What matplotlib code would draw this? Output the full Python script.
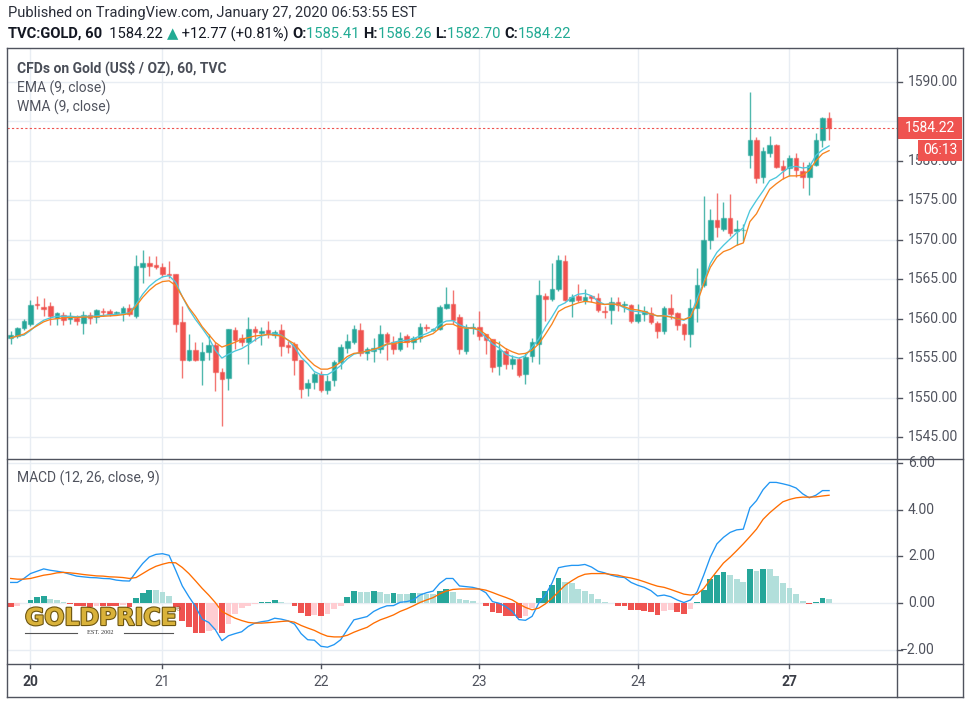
import numpy as np
import matplotlib
matplotlib.use("Agg")
import matplotlib.pyplot as plt
from matplotlib import transforms
from matplotlib.patches import Rectangle
from matplotlib.lines import Line2D
import matplotlib.patheffects as pe

# ---------------- data ----------------
opens = [1557.6,1557.8,1558.8,1559.3,1561.9,1561.5,1561.6,1560.1,1560.5,1560.0,
         1560.1,1559.45,1560.5,1560.25,1561.0,1561.0,1560.7,1560.7,1561.3,1560.3,
         1566.6,1567.0,1566.8,1566.5,1565.7,1565.6,1559.6,1554.8,1556.0,1554.7,
         1555.75,1556.6,1553.3,1552.5,1558.6,1557.55,1557.0,1558.7,1558.2,1558.5,
         1557.9,1558.6,1556.7,1556.8,1554.7,1551.2,1552.0,1553.0,1550.9,1552.2,
         1554.5,1556.3,1557.1,1558.6,1555.7,1555.9,1556.2,1558.1,1557.1,1556.2,
         1557.85,1557.1,1557.5,1559.0,1558.5,1558.7,1561.4,1561.9,1560.2,1555.9,
         1558.8,1559.0,1558.0,1557.4,1554.05,1555.9,1554.3,1554.9,1553.0,1555.3,
         1556.8,1562.9,1562.5,1563.8,1567.3,1562.3,1562.9,1562.3,1562.9,1562.6,
         1561.0,1561.1,1562.1,1561.7,1561.7,1559.65,1560.6,1560.7,1559.5,1558.4,
         1561.3,1560.7,1559.3,1558.0,1561.3,1564.3,1570.0,1572.5,1571.4,1572.7,
         1571.1,1571.2,1580.8,1582.7,1577.9,1581.0,1582.0,1579.3,1579.1,1580.4,
         1578.7,1577.9,1579.5,1582.6,1585.41]
highs = [1558.4,1559.0,1559.9,1562.4,1562.9,1562.6,1562.1,1560.8,1560.9,1560.8,
         1560.5,1561.0,1560.8,1561.2,1561.4,1561.2,1561.0,1561.65,1561.8,1568.1,
         1568.7,1567.9,1568.0,1567.0,1567.3,1565.7,1561.6,1558.0,1557.1,1557.1,
         1558.0,1557.0,1553.8,1558.7,1559.0,1558.0,1560.2,1559.1,1559.0,1559.75,
         1558.6,1559.3,1557.2,1557.0,1554.7,1552.4,1553.2,1553.4,1552.9,1554.7,
         1556.8,1558.1,1559.2,1559.4,1556.4,1557.6,1559.2,1558.3,1557.85,1558.3,
         1558.1,1557.85,1559.4,1559.3,1558.8,1561.7,1564.0,1563.6,1560.6,1559.3,
         1559.4,1561.0,1558.1,1557.4,1557.2,1556.3,1555.4,1555.1,1555.7,1557.6,
         1564.9,1563.3,1567.1,1568.05,1568.05,1563.1,1564.4,1563.75,1563.0,1563.3,
         1561.65,1562.8,1562.7,1562.3,1561.9,1561.8,1561.6,1561.5,1559.7,1561.6,
         1563.1,1560.9,1559.5,1562.5,1566.4,1575.6,1573.9,1575.9,1574.8,1575.8,
         1572.5,1572.0,1588.7,1583.0,1581.8,1583.1,1582.2,1580.1,1580.8,1581.0,
         1579.8,1579.8,1583.5,1585.6,1586.26]
lows = [1556.8,1557.5,1558.6,1559.1,1561.2,1560.3,1559.2,1559.2,1559.2,1559.3,
        1559.2,1558.1,1559.3,1559.5,1560.4,1560.4,1560.6,1559.75,1560.4,1560.1,
        1564.5,1565.4,1566.3,1565.3,1565.2,1558.3,1552.5,1554.6,1554.6,1551.6,
        1554.8,1550.8,1546.4,1550.9,1556.2,1556.5,1554.3,1557.2,1556.7,1557.55,
        1557.6,1555.3,1555.7,1552.9,1550.0,1550.25,1551.1,1550.7,1550.5,1551.5,
        1553.6,1555.7,1556.8,1555.3,1554.8,1554.5,1555.7,1554.7,1555.5,1555.9,
        1556.4,1556.2,1557.0,1558.4,1558.4,1558.5,1561.2,1559.3,1555.5,1555.5,
        1558.1,1557.3,1555.5,1553.2,1552.8,1553.6,1553.6,1552.6,1551.7,1554.5,
        1554.3,1559.65,1562.3,1563.5,1562.3,1560.2,1562.1,1561.9,1562.1,1560.8,
        1560.1,1559.3,1561.0,1560.9,1559.5,1559.4,1559.7,1559.3,1557.5,1558.1,
        1559.9,1558.5,1557.25,1556.4,1559.6,1564.0,1568.8,1570.4,1571.1,1570.5,
        1569.3,1569.9,1579.1,1577.2,1577.2,1580.55,1579.1,1577.7,1578.1,1578.0,
        1576.5,1575.7,1579.3,1581.8,1582.70]
closes = [1557.9,1558.8,1559.7,1561.7,1561.7,1561.2,1560.3,1560.7,1559.8,1560.4,
          1559.7,1560.5,1560.1,1561.05,1560.8,1560.6,1560.9,1561.3,1560.6,1566.7,
          1567.1,1566.7,1566.6,1565.6,1565.5,1559.3,1554.8,1556.0,1554.8,1555.75,
          1556.6,1553.3,1552.4,1558.7,1557.3,1557.1,1558.7,1558.3,1558.4,1558.1,
          1558.3,1556.5,1556.4,1554.7,1551.1,1551.9,1553.0,1550.9,1552.1,1554.5,
          1556.4,1557.2,1558.7,1555.7,1556.2,1556.3,1558.1,1557.0,1556.2,1557.6,
          1557.1,1557.6,1559.0,1558.8,1558.7,1561.5,1561.9,1559.8,1556.2,1558.8,
          1559.0,1557.85,1557.3,1553.9,1556.0,1554.3,1554.9,1552.8,1555.2,1557.0,
          1563.0,1562.5,1563.75,1567.4,1562.4,1562.8,1562.4,1562.8,1562.6,1561.1,
          1560.9,1562.1,1561.7,1561.9,1559.75,1560.6,1561.0,1559.6,1558.4,1561.4,
          1560.55,1559.15,1558.1,1561.4,1564.3,1570.0,1572.5,1571.6,1572.7,1570.8,
          1571.4,1571.3,1582.7,1577.8,1581.2,1582.0,1579.2,1578.9,1580.4,1578.8,
          1577.9,1579.5,1582.7,1585.4,1584.22]
ema9 = [1557.55,1557.8,1558.05,1558.6,1559.1,1559.6,1559.9,1560.0,1560.1,1560.15,
        1560.15,1560.2,1560.2,1560.25,1560.3,1560.35,1560.4,1560.5,1560.65,1561.6,
        1562.7,1563.6,1564.3,1564.7,1564.8,1564.2,1562.8,1561.4,1560.3,1559.0,
        1558.0,1557.0,1556.4,1556.7,1557.0,1557.4,1557.6,1557.8,1557.9,1558.0,
        1557.9,1557.8,1557.3,1556.8,1555.8,1554.9,1554.1,1553.6,1553.6,1553.9,
        1554.5,1555.2,1555.6,1555.7,1555.9,1556.1,1556.4,1556.8,1556.8,1557.0,
        1557.0,1557.2,1557.5,1557.8,1558.1,1558.8,1559.3,1559.3,1558.9,1558.8,
        1558.8,1558.6,1558.0,1557.2,1556.8,1556.2,1555.8,1555.5,1555.6,1556.0,
        1556.8,1558.0,1559.3,1560.9,1561.4,1561.7,1562.0,1562.2,1562.1,1561.9,
        1561.8,1561.85,1561.8,1561.5,1561.2,1561.1,1560.9,1560.6,1560.35,1560.35,
        1560.2,1560.0,1559.9,1560.2,1562.0,1564.4,1566.5,1567.8,1568.5,1568.8,
        1569.3,1569.6,1572.3,1573.3,1574.9,1576.4,1577.1,1577.7,1578.1,1578.1,
        1578.2,1578.8,1580.0,1580.9,1581.3]
wma9 = [1557.55,1557.8,1557.9,1558.5,1559.25,1559.8,1560.1,1560.3,1560.3,1560.3,
        1560.25,1560.3,1560.3,1560.35,1560.4,1560.5,1560.55,1560.6,1560.75,1561.8,
        1563.1,1564.1,1564.8,1565.3,1565.45,1564.6,1562.8,1561.2,1559.9,1558.8,
        1557.6,1556.0,1555.0,1555.5,1555.9,1556.2,1556.7,1557.3,1557.8,1558.0,
        1558.1,1557.9,1557.3,1556.4,1555.1,1554.3,1553.3,1552.9,1552.9,1553.4,
        1554.05,1554.9,1555.5,1555.7,1555.9,1556.0,1556.3,1556.7,1557.0,1557.2,
        1557.25,1557.45,1557.8,1558.1,1558.5,1559.3,1559.7,1559.75,1559.2,1558.9,
        1558.8,1558.5,1557.6,1556.8,1556.3,1555.5,1555.2,1555.0,1555.3,1556.4,
        1557.4,1558.9,1560.2,1561.6,1562.0,1562.7,1563.1,1563.2,1562.9,1562.2,
        1561.8,1561.9,1561.8,1561.35,1561.0,1560.9,1560.8,1560.55,1560.35,1560.4,
        1560.25,1560.0,1559.8,1560.3,1562.6,1564.6,1567.0,1568.4,1569.3,1570.1,
        1570.9,1571.5,1573.7,1575.0,1576.2,1577.5,1577.9,1578.6,1579.2,1579.3,
        1579.1,1579.2,1580.7,1581.4,1581.9]
macd_line = [0.89,0.89,1.06,1.27,1.37,1.47,1.41,1.37,1.32,1.24,
             1.16,1.13,1.10,1.09,1.06,1.05,0.99,0.96,0.95,1.34,
             1.70,1.98,2.09,2.12,2.05,1.41,0.74,0.28,-0.14,-0.68,
             -0.82,-1.13,-1.60,-1.39,-1.30,-1.22,-0.99,-0.85,-0.79,-0.75,
             -0.64,-0.68,-0.75,-0.89,-1.30,-1.56,-1.58,-1.84,-1.88,-1.77,
             -1.56,-1.13,-0.71,-0.64,-0.57,-0.35,-0.21,-0.11,-0.10,0.04,
             0.07,0.14,0.35,0.45,0.52,0.85,1.06,1.06,0.74,0.71,
             0.68,0.61,0.45,0.07,0.0,-0.14,-0.35,-0.70,-0.73,-0.56,
             0.0,0.35,0.85,1.52,1.58,1.62,1.62,1.66,1.55,1.37,
             1.30,1.20,1.13,1.10,0.89,0.77,0.68,0.54,0.31,0.35,
             0.28,0.14,0.03,0.14,0.49,1.20,1.97,2.54,2.82,3.03,
             3.14,3.17,4.08,4.39,4.86,5.17,5.17,5.11,5.04,4.93,
             4.68,4.51,4.62,4.82,4.82]
signal_line = [1.06,1.03,1.03,1.06,1.13,1.20,1.24,1.30,1.32,1.30,
               1.27,1.23,1.20,1.17,1.16,1.13,1.12,1.10,1.06,1.10,
               1.27,1.44,1.58,1.67,1.74,1.73,1.53,1.27,0.96,0.64,
               0.35,0.03,-0.35,-0.50,-0.64,-0.74,-0.82,-0.85,-0.85,-0.83,
               -0.81,-0.78,-0.76,-0.81,-0.95,-1.06,-1.16,-1.30,-1.41,-1.44,
               -1.44,-1.37,-1.24,-1.13,-1.03,-0.85,-0.71,-0.61,-0.50,-0.35,
               -0.24,-0.11,0.03,0.14,0.24,0.40,0.52,0.59,0.61,0.61,
               0.61,0.61,0.56,0.46,0.35,0.25,0.14,-0.03,-0.18,-0.28,
               -0.21,-0.03,0.21,0.49,0.77,0.96,1.13,1.24,1.27,1.27,
               1.27,1.23,1.20,1.13,1.08,1.01,0.92,0.82,0.73,0.68,
               0.59,0.49,0.39,0.35,0.39,0.63,1.01,1.37,1.72,1.97,
               2.25,2.54,2.85,3.17,3.59,3.87,4.11,4.34,4.44,4.51,
               4.54,4.54,4.55,4.59,4.62]
macd_hist = [-0.18,-0.10,0.03,0.14,0.25,0.31,0.20,0.14,0.04,-0.03,
             -0.10,-0.10,-0.14,-0.10,-0.10,-0.10,-0.10,-0.08,-0.14,0.24,
             0.45,0.57,0.57,0.47,0.33,-0.14,-0.74,-1.03,-1.27,-1.27,
             -1.17,-1.15,-1.27,-0.89,-0.45,-0.21,-0.10,-0.04,0.04,0.07,
             0.14,0.04,-0.01,-0.10,-0.40,-0.54,-0.50,-0.54,-0.45,-0.24,
             -0.10,0.28,0.52,0.48,0.48,0.52,0.48,0.38,0.42,0.38,
             0.38,0.42,0.42,0.40,0.38,0.52,0.62,0.50,0.17,0.14,
             0.08,0.02,-0.10,-0.39,-0.42,-0.54,-0.54,-0.63,-0.54,-0.21,
             0.24,0.52,0.77,1.10,0.89,0.85,0.61,0.52,0.38,0.18,
             0.07,0.00,-0.10,-0.10,-0.31,-0.31,-0.35,-0.39,-0.52,-0.35,
             -0.31,-0.39,-0.45,-0.24,0.07,0.55,1.05,1.20,1.35,1.20,
             1.05,0.90,1.45,1.38,1.45,1.45,1.15,0.87,0.65,0.38,
             0.10,-0.04,0.05,0.24,0.18]
day_labels = ["20", "21", "22", "23", "24", "27"]
day_bar_index = [3, 23, 47, 71, 95, 118]
day_bold = [True, False, False, False, False, True]
price_ticks = [1545, 1550, 1555, 1560, 1565, 1570, 1575, 1580, 1590]
macd_ticks = [6, 4, 2, 0, -2]
last_price = 1584.22
countdown = "06:13"

# ---------------- style ----------------
W, H = 970, 704
FONT = "Roboto"
UP, DOWN = "#26A69A", "#EF5350"
GRID = "#E8EDF3"
FRAME = "#50535E"
TXT = "#50535E"
LFS = 10.0

plt.rcParams["font.family"] = [FONT, "DejaVu Sans"]

fig = plt.figure(figsize=(W / 100, H / 100), dpi=100)
fig.patch.set_facecolor("white")

def fx(px):
    return px / W

def fy(py):
    return 1 - py / H

L, R = 7, 897
ax = fig.add_axes([fx(L), fy(459), (R - L) / W, (459 - 48) / H])
ax2 = fig.add_axes([fx(L), fy(664), (R - L) / W, (664 - 459) / H])

x = np.arange(len(closes))
o = np.array(opens); h = np.array(highs); l = np.array(lows); c = np.array(closes)

for a in (ax, ax2):
    a.set_xlim(-0.56, 134.29)
    for s in a.spines.values():
        s.set_visible(False)
    a.set_xticks([]); a.set_yticks([])
    a.set_facecolor("white")
    for d in day_bar_index:
        a.axvline(d, color=GRID, lw=1, zorder=0)

ax.set_ylim(1542.21, 1594.31)
ax2.set_ylim(-2.599, 6.171)

for p in [1545, 1550, 1555, 1560, 1565, 1570, 1575, 1580, 1585, 1590]:
    ax.axhline(p, color=GRID, lw=1, zorder=0)
for m in macd_ticks:
    ax2.axhline(m, color=GRID, lw=1, zorder=0)

# candles
up = c >= o
body_col = np.where(up, UP, DOWN)
edge_col = [(0.15, 0.65, 0.60, 0.5) if u else (0.94, 0.33, 0.31, 0.5) for u in up]
wick_col = [(0.15, 0.65, 0.60, 0.8) if u else (0.94, 0.33, 0.31, 0.8) for u in up]
ax.vlines(x, l, h, colors=wick_col, lw=1.0, zorder=2)
ax.bar(x, np.maximum(np.abs(c - o), 0.07), bottom=np.minimum(o, c), width=0.68,
       color=body_col, edgecolor=edge_col, linewidth=1.0, zorder=3)

ax.plot(x, wma9, color="#4CC7DC", lw=0.95, zorder=4)
ax.plot(x, ema9, color="#F7841E", lw=0.95, zorder=4)
ax.axhline(last_price, color=DOWN, lw=0.8, ls=(0, (2, 2)), zorder=5)

# MACD histogram with TradingView colouring
hist = np.array(macd_hist)
hcols = []
for i, v in enumerate(hist):
    prev = hist[i - 1] if i > 0 else v
    if v >= 0:
        hcols.append("#26A69A" if v > prev else "#B2DFDB")
    else:
        hcols.append("#FFCDD2" if v > prev else "#EF5350")
ax2.bar(x, hist, width=0.86, color=hcols, zorder=2)
ax2.plot(x, macd_line, color="#2196F3", lw=0.95, zorder=4)
ax2.plot(x, signal_line, color="#FF6D00", lw=0.95, zorder=4)

# axis labels (right)
bt = transforms.blended_transform_factory(ax.transAxes, ax.transData)
bt2 = transforms.blended_transform_factory(ax2.transAxes, ax2.transData)
xoff = (908 - L) / (R - L)
for p in price_ticks:
    ax.text(xoff, p, f"{p:.2f}", transform=bt, ha="left", va="center",
            fontsize=LFS, color=TXT, clip_on=False)
for m in macd_ticks:
    lab = f"{m:.2f}".replace("-", "\u2212")
    xo = xoff if m >= 0 else (900 - L) / (R - L)
    ax2.text(xo, m, lab, transform=bt2, ha="left", va="center",
             fontsize=LFS, color=TXT, clip_on=False)

# last price box
fig.canvas.draw()
ypx = ax.transData.transform((0, last_price))[1]
fig.patches.append(Rectangle((898, ypx - 11), 64, 22, transform=None,
                             facecolor=DOWN, edgecolor="none", zorder=10))
fig.patches.append(Rectangle((918, ypx - 33), 44, 21, transform=None,
                             facecolor=DOWN, edgecolor="none", zorder=10))
fig.text(fx(930), (ypx) / H, f"{last_price:.2f}", color="white", fontsize=LFS,
         ha="center", va="center", zorder=11)
fig.text(fx(940), (ypx - 22.5) / H, countdown, color="white", fontsize=LFS,
         ha="center", va="center", zorder=11)

# date labels
for lab, d, b in zip(day_labels, day_bar_index, day_bold):
    ax2.text(d, -2.599 - 18 / 23.375, lab, ha="center", va="center", fontsize=LFS,
             color="#3a3d46" if b else TXT, fontweight="bold" if b else "normal",
             clip_on=False)
    ax2.plot([d, d], [-2.599, -2.599 - 4 / 23.375], color=FRAME, lw=1, clip_on=False)

# frame lines
def hline(y, x0, x1, col=FRAME, lw=1.0):
    fig.lines.append(Line2D([fx(x0), fx(x1)], [fy(y), fy(y)], transform=fig.transFigure,
                            color=col, lw=lw, zorder=20))

def vline(xp, y0, y1, col=FRAME, lw=1.0):
    fig.lines.append(Line2D([fx(xp), fx(xp)], [fy(y0), fy(y1)], transform=fig.transFigure,
                            color=col, lw=lw, zorder=20))

hline(48, 7, 963)
hline(459, 7, 963)
hline(664, 7, 963)
hline(697, 7, 963)
vline(7, 48, 697)
vline(897, 48, 697)
vline(963, 48, 697)

# right-axis tick marks
for p in price_ticks:
    yy = ax.transData.transform((0, p))[1]
    fig.lines.append(Line2D([897, 902], [yy, yy], transform=None, color=FRAME, lw=1))
for m in macd_ticks:
    yy = ax2.transData.transform((0, m))[1]
    fig.lines.append(Line2D([897, 902], [yy, yy], transform=None, color=FRAME, lw=1))

# header texts
renderer = fig.canvas.get_renderer()

def seq(x0, y, pieces, fs):
    xx = x0
    for txt, col, wt in pieces:
        t = fig.text(xx / W, fy(y), txt, color=col, fontweight=wt, fontsize=fs,
                     ha="left", va="center")
        bb = t.get_window_extent(renderer)
        xx = bb.x1

fig.text(fx(8), fy(13), "Published on TradingView.com, January 27, 2020 06:53:55 EST",
         fontsize=10.5, color="#2A2E39", ha="left", va="center")
TEAL = "#22AB94"
DK = "#131722"
seq(8, 34, [("TVC:GOLD, 60", DK, "bold"), ("  1584.22 ", DK, "normal"),
            ("\u25B2", TEAL, "normal"), (" +12.77 (+0.81%) ", DK, "normal"),
            ("O:", DK, "bold"), ("1585.41 ", TEAL, "normal"),
            ("H:", DK, "bold"), ("1586.26 ", TEAL, "normal"),
            ("L:", DK, "bold"), ("1582.70 ", TEAL, "normal"),
            ("C:", DK, "bold"), ("1584.22", TEAL, "normal")], 10.6)

fig.text(fx(17), fy(68), "CFDs on Gold (US$ / OZ), 60, TVC", fontsize=LFS,
         color="#4A4E58", fontweight="bold", ha="left", va="center")
fig.text(fx(17), fy(88), "EMA (9, close)", fontsize=LFS, color=TXT, ha="left", va="center")
fig.text(fx(17), fy(107), "WMA (9, close)", fontsize=LFS, color=TXT, ha="left", va="center")
fig.text(fx(17), fy(478), "MACD (12, 26, close, 9)", fontsize=LFS, color=TXT,
         ha="left", va="center")

# GOLDPRICE logo
fig.text(fx(25), fy(618), "GOLDPRICE", fontsize=17, fontweight="heavy",
         family="DejaVu Sans", color="#D9B23A", ha="left", va="center", zorder=30,
         path_effects=[pe.withStroke(linewidth=1.6, foreground="#6B5410")])
fig.text(fx(176), fy(610), "\u00AE", fontsize=4.5, color="#6B5410", ha="left",
         va="center", zorder=30)
hline(633, 25, 77, col="#555555", lw=0.8)
hline(633, 124, 173, col="#555555", lw=0.8)
fig.text(fx(100.5), fy(633), "EST. 2002", fontsize=4.6, family="Liberation Serif",
         color="#333333", ha="center", va="center", zorder=30)

fig.savefig("out.png", dpi=100, facecolor="white")
